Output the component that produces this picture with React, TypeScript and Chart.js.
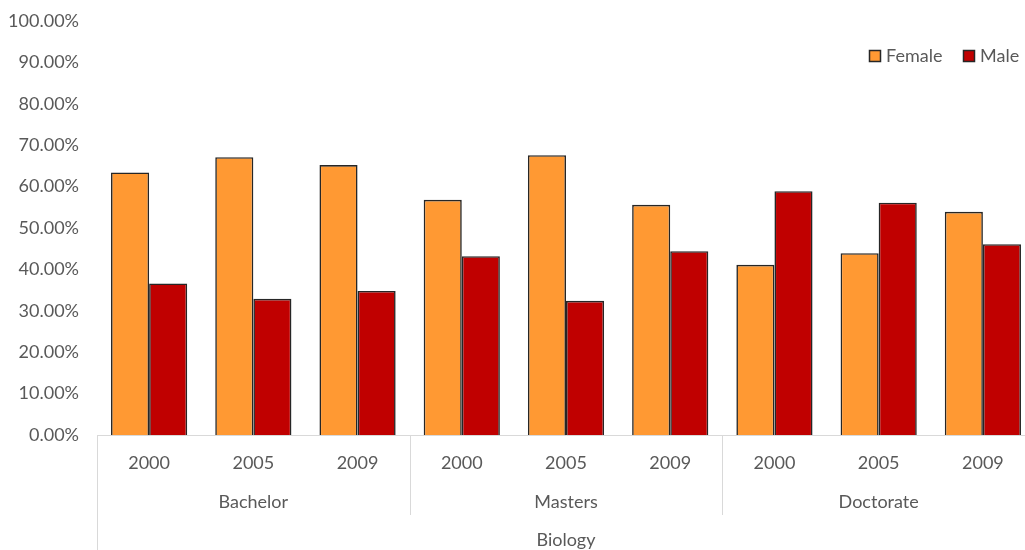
import { useEffect, useRef } from "react";
import { Chart, registerables } from "chart.js";

Chart.register(...registerables);

const groups = ["Bachelor", "Masters", "Doctorate"];
const years = ["2000", "2005", "2009"];
const outerLabel = "Biology";
const seriesNames = ["Female", "Male"];
const female = [63.4, 67.1, 65.2, 56.8, 67.6, 55.6, 41.1, 43.9, 53.9];
const male = [36.6, 32.9, 34.8, 43.2, 32.4, 44.4, 58.9, 56.1, 46.1];
const seriesColors = ["#FF9933", "#C00000"];
const yMin = 0;
const yMax = 100;
const yStep = 10;

const FONT = "Lato";
const TEXT = "#595959";
const AXIS = "#d9d9d9";
const BORDER = "#262626";

const categories = groups.flatMap((g) => years.map((y) => `${g} ${y}`));

const multiLevelPlugin = {
  id: "multiLevel",
  afterDraw(chart: any) {
    const ctx = chart.ctx as CanvasRenderingContext2D;
    const x = chart.scales.x;
    const area = chart.chartArea;
    const H = chart.height;
    ctx.save();
    ctx.font = `18px ${FONT}`;
    ctx.fillStyle = TEXT;
    ctx.textAlign = "center";
    ctx.textBaseline = "middle";
    categories.forEach((_, i) => {
      const cx = x.getPixelForValue(i);
      ctx.fillText(years[i % years.length], cx, area.bottom + 28);
    });
    ctx.strokeStyle = AXIS;
    ctx.lineWidth = 1;
    const per = years.length;
    for (let g = 0; g <= groups.length; g++) {
      const bx = Math.round(x.getPixelForValue(g * per - 0.5)) + 0.5;
      const outer = g === 0 || g === groups.length;
      ctx.beginPath();
      ctx.moveTo(bx, area.bottom);
      ctx.lineTo(bx, outer ? H : area.bottom + 80);
      ctx.stroke();
    }
    groups.forEach((g, gi) => {
      const l = x.getPixelForValue(gi * per - 0.5);
      const r = x.getPixelForValue(gi * per + per - 0.5);
      ctx.fillText(g, (l + r) / 2, area.bottom + 67);
    });
    const L = x.getPixelForValue(-0.5);
    const R = x.getPixelForValue(categories.length - 0.5);
    ctx.fillText(outerLabel, (L + R) / 2, area.bottom + 105);

    const items = [
      { x: 869, name: seriesNames[0], color: seriesColors[0] },
      { x: 963, name: seriesNames[1], color: seriesColors[1] },
    ];
    ctx.textAlign = "left";
    items.forEach((it) => {
      ctx.fillStyle = it.color;
      ctx.fillRect(it.x, 50, 12, 12);
      ctx.strokeStyle = BORDER;
      ctx.lineWidth = 1.5;
      ctx.strokeRect(it.x + 0.5, 50.5, 11, 11);
      ctx.fillStyle = TEXT;
      ctx.fillText(it.name, it.x + 17, 56);
    });
    ctx.restore();
  },
};

export default function App() {
  const ref = useRef<HTMLCanvasElement | null>(null);
  useEffect(() => {
    if (!ref.current) return;
    const ds = (i: number, data: number[]) => ({
      label: seriesNames[i],
      data,
      backgroundColor: seriesColors[i],
      borderColor: BORDER,
      borderWidth: 1.6,
      borderSkipped: "bottom" as const,
      categoryPercentage: 0.731,
      barPercentage: 1,
    });
    const chart = new Chart(ref.current, {
      type: "bar",
      data: {
        labels: categories,
        datasets: [ds(0, female), ds(1, male)],
      },
      options: {
        responsive: false,
        animation: false,
        devicePixelRatio: 1,
        layout: { padding: { top: 21, bottom: 115, left: 0, right: 1 } },
        plugins: { legend: { display: false }, tooltip: { enabled: false } },
        scales: {
          x: {
            grid: { display: false, drawTicks: false },
            ticks: { display: false },
            border: { display: true, color: AXIS, width: 1 },
          },
          y: {
            min: yMin,
            max: yMax,
            grid: { display: false, drawTicks: false },
            border: { display: false },
            afterFit: (s: any) => {
              s.width = 97;
              s.paddingTop = 10;
              s.paddingBottom = 10;
            },
            ticks: {
              stepSize: yStep,
              padding: 18,
              color: TEXT,
              font: { family: FONT, size: 18 },
              callback: (v: any) => `${Number(v).toFixed(2)}%`,
            },
          },
        },
      },
      plugins: [multiLevelPlugin],
    });
    return () => chart.destroy();
  }, []);
  return (
    <div
      style={{
        position: "fixed",
        left: 0,
        top: 0,
        width: 1025,
        height: 550,
        overflow: "hidden",
        background: "#fff",
      }}
    >
      <canvas ref={ref} width={1036} height={550} style={{ display: "block" }} />
    </div>
  );
}
